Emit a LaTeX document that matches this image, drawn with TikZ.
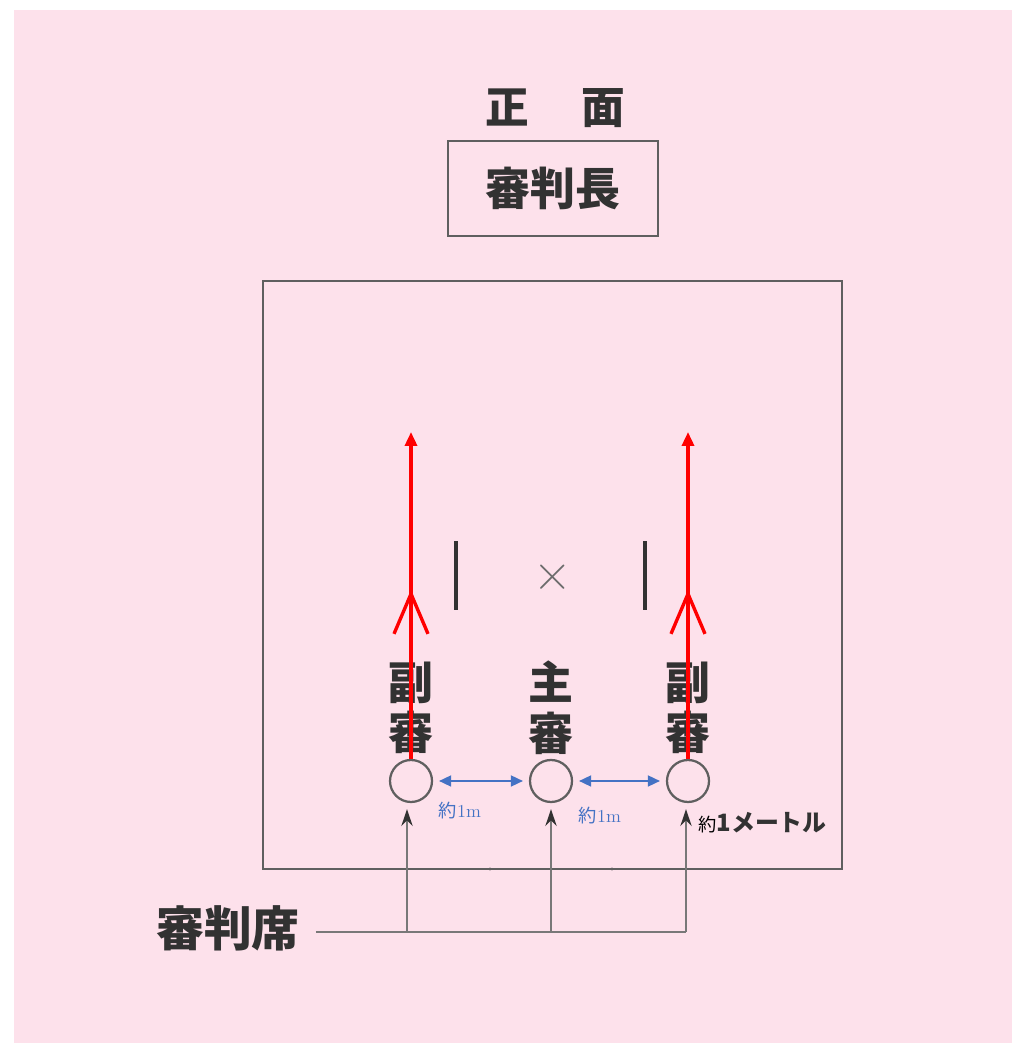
\documentclass[tikz,border=0pt]{standalone}
\usepackage{fontspec}
\usetikzlibrary{arrows.meta,decorations.markings}
\newfontfamily\jp{Noto Sans CJK JP}
\definecolor{bgpink}{RGB}{253,225,235}
\definecolor{linegray}{RGB}{95,95,95}
\definecolor{seatgray}{RGB}{120,120,120}
\definecolor{gapblue}{RGB}{68,114,196}
\definecolor{inkgray}{RGB}{50,50,50}

\tikzset{
  bigtext/.style={font=\jp\bfseries\fontsize{32}{36}\selectfont, text=inkgray, align=center, inner sep=0pt},
  judge/.style={draw=linegray, line width=1.6pt, circle, minimum size=1.05cm, inner sep=0pt},
  runline/.style={red, line width=2.4pt, -{Triangle[length=0.35cm,width=0.3cm]},
    postaction={decorate},
    decoration={markings, mark=at position 0.518 with {\arrow{Straight Barb[length=1cm,width=0.85cm]}}}},
  gapline/.style={gapblue, line width=0.8pt, {Triangle[length=0.3cm,width=0.28cm]}-{Triangle[length=0.3cm,width=0.28cm]}, shorten <=0.15cm, shorten >=0.15cm},
  gaplbl/.style={text=gapblue, font=\fontsize{13}{13}\selectfont, inner sep=0pt},
  seatline/.style={seatgray, line width=2pt},
  seatarrow/.style={seatgray, line width=2pt, -{Stealth[length=0.42cm,width=0.28cm,inkgray]}, shorten >=0.15cm},
  bar/.style={inkgray, line width=2.8pt}
}

\begin{document}
\begin{tikzpicture}
\useasboundingbox (0,0) rectangle (25.3,26.075);
\fill[bgpink] (0.35,0) rectangle (25.3,25.825);

\node[bigtext, font=\jp\bfseries\fontsize{31}{31}\selectfont] (front) at (13.89,23.375) {正\hspace{1.2em}面};

\node[bigtext, draw=linegray, line width=1.6pt, minimum width=5.25cm, minimum height=2.375cm] (chief) at (13.825,21.36) {審判長};

\node[draw=linegray, line width=1.4pt, minimum width=14.475cm, minimum height=14.7cm] (court) at (13.8125,11.7) {};

\draw[bar] (11.4,10.825) -- (11.4,12.55);
\draw[bar] (16.125,10.825) -- (16.125,12.55);
\node[text=gray!85!black, font=\fontsize{38}{38}\selectfont, inner sep=0pt] (cross) at (13.825,11.625) {×};

\node[bigtext] (sub1lbl) at (10.275,8.375) {副\\審};
\node[bigtext] (mainlbl) at (13.775,8.375) {主\\審};
\node[bigtext] (sub2lbl) at (17.2,8.375) {副\\審};

\node[judge] (sub1) at (10.275,6.55) {};
\node[judge] (main) at (13.775,6.55) {};
\node[judge] (sub2) at (17.2,6.55) {};

\coordinate (run1) at (10.275,15.275);
\coordinate (run2) at (17.2,15.275);
\draw[runline] (sub1) -- (run1);
\draw[runline] (sub2) -- (run2);

\draw[gapline] (sub1) -- (main);
\draw[gapline] (main) -- (sub2);
\node[gaplbl] (gap1) at (11.5,5.8) {{\jp 約}1m};
\node[gaplbl] (gap2) at (15.0,5.675) {{\jp 約}1m};

\node[anchor=west, inner sep=0pt] (sidegap) at (17.45,5.5)
{{\jp\fontsize{13}{13}\selectfont 約}{\jp\bfseries\fontsize{17}{17}\selectfont\color{inkgray}1メートル}};

\node[bigtext, font=\jp\bfseries\fontsize{34}{34}\selectfont] (seat) at (5.7,2.875) {審判席};
\coordinate (foot1) at (10.175,2.775);
\coordinate (foot2) at (13.775,2.775);
\coordinate (foot3) at (17.15,2.775);
\draw[seatline, shorten <=0.4cm] (seat.east |- foot3) -- (foot3);
\draw[seatarrow] (foot1) -- (foot1 |- sub1.south);
\draw[seatarrow] (foot2) -- (foot2 |- main.south);
\draw[seatarrow] (foot3) -- (foot3 |- sub2.south);

\fill[linegray] (12.25,4.35) circle (0.04);
\fill[linegray] (15.3,4.35) circle (0.04);
\end{tikzpicture}
\end{document}
